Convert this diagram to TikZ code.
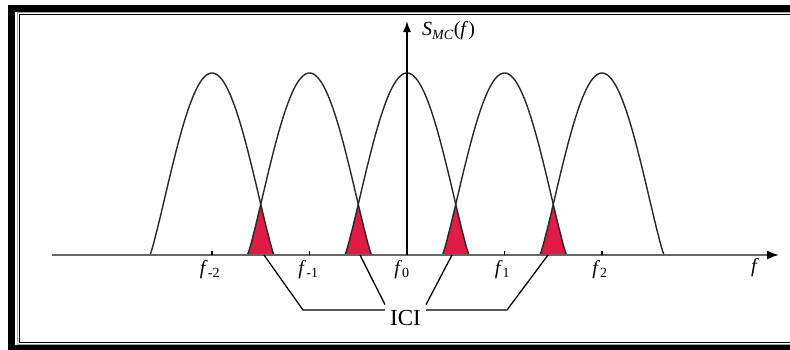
\documentclass[tikz,border=0pt]{standalone}
\usepackage{fontspec}
\setmainfont{Liberation Serif}
\usetikzlibrary{positioning, arrows.meta, calc}

\definecolor{iciRed}{RGB}{224,28,70}

\begin{document}
\begin{tikzpicture}[
        x=1pt,
        y=-1pt,
        lobe/.style={
            black!85,
            line width=1.4pt
        },
        overlap/.style={
            fill=iciRed
        },
        axisline/.style={
            black!60,
            line width=1.6pt
        },
        leader/.style={
            black,
            line width=1.3pt
        },
        ticklabel/.style={
            font=\fontsize{20}{22}\selectfont,
            inner sep=0pt
        }
    ]

    \useasboundingbox (0,0) rectangle (790,349);
    \clip (0,0) rectangle (790,349);

    % --------------------------------------------------------
    % Frame (open on the right, cut by the page)
    % --------------------------------------------------------

    \draw[
        black,
        line width=7pt
    ]
    (795,8) -- (11.5,8) -- (11.5,348.5) -- (795,348.5);

    \draw[
        gray!70,
        line width=1pt
    ]
    (795,12.5) -- (17,12.5) -- (17,344) -- (795,344);

    \draw[
        black,
        line width=1pt
    ]
    (795,14.5) -- (19.5,14.5) -- (19.5,342) -- (795,342);

    % --------------------------------------------------------
    % Overlap regions (ICI)
    % --------------------------------------------------------

    \foreach \k in {-2,...,1} {

        \pgfmathsetmacro\cx{407+97.5*\k}

        \fill[
            overlap
        ]
        plot[domain=-61.98:-48.75, samples=16, smooth]
            ({\cx+97.5+\x},{255-182*pow(cos(\x*90/62),1.15)})
        -- plot[domain=48.75:61.98, samples=16, smooth]
            ({\cx+\x},{255-182*pow(cos(\x*90/62),1.15)})
        -- cycle;

    }

    % --------------------------------------------------------
    % Sub-carrier spectra
    % --------------------------------------------------------

    \foreach \k in {-2,...,2} {

        \pgfmathsetmacro\cx{407+97.5*\k}

        \draw[
            lobe
        ]
        plot[domain=-61.98:61.98, samples=90, smooth]
            ({\cx+\x},{255-182*pow(cos(\x*90/62),1.15)});

    }

    % --------------------------------------------------------
    % Axes
    % --------------------------------------------------------

    \coordinate (xstart) at (52,255);
    \coordinate (xend) at (779,255);
    \coordinate (origin) at (407,255);
    \coordinate (ytop) at (407,21);

    \draw[
        axisline,
        -{Latex[length=12pt, width=9pt, color=black]}
    ]
    (xstart) -- (xend);

    \draw[
        black,
        line width=1.3pt,
        -{Latex[length=11pt, width=8pt]}
    ]
    (origin) -- (ytop);

    \node[
        anchor=west,
        font=\fontsize{20}{22}\selectfont,
        inner sep=0pt
    ]
    (smc)
    at (422,31)
    {\textit{S}\textsubscript{\textit{MC}}(\textit{f})};

    \node[
        ticklabel
    ]
    (faxis)
    at (755,268)
    {\textit{f}};

    % --------------------------------------------------------
    % Ticks and sub-carrier labels
    % --------------------------------------------------------

    \foreach \k/\nm/\sub/\sh in {-2/m2/-2/-2, -1/m1/-1/-1, 0/0/0/-5, 1/1/1/-2, 2/2/2/-2} {

        \pgfmathsetmacro\cx{407+97.5*\k}

        \coordinate (tick\nm) at (\cx,255);

        \draw[
            black,
            line width=1.2pt
        ]
        (tick\nm) -- ++(0,-4);

        \node[
            ticklabel,
            below=5pt of tick\nm,
            xshift=\sh pt
        ]
        (flab\nm)
        {\textit{f}\textsubscript{\sub}};

    }

    % --------------------------------------------------------
    % ICI label and leaders
    % --------------------------------------------------------

    \node[
        font=\fontsize{23}{25}\selectfont,
        inner sep=5pt
    ]
    (ici)
    at (405.5,317.5)
    {ICI};

    \coordinate (ovl1) at (264,255);
    \coordinate (ovl2) at (360,255);
    \coordinate (ovl3) at (452,255);
    \coordinate (ovl4) at (548,255);

    \coordinate (kneeL) at (303,310);
    \coordinate (kneeR) at (507,310);

    \draw[
        leader
    ]
    (ovl1) -- (kneeL) -- (kneeL -| ici.west);

    \draw[
        leader
    ]
    (ovl2) -- (ici.north west);

    \draw[
        leader
    ]
    (ovl3) -- (ici.north east);

    \draw[
        leader
    ]
    (ovl4) -- (kneeR) -- (kneeR -| ici.east);

\end{tikzpicture}
\end{document}
